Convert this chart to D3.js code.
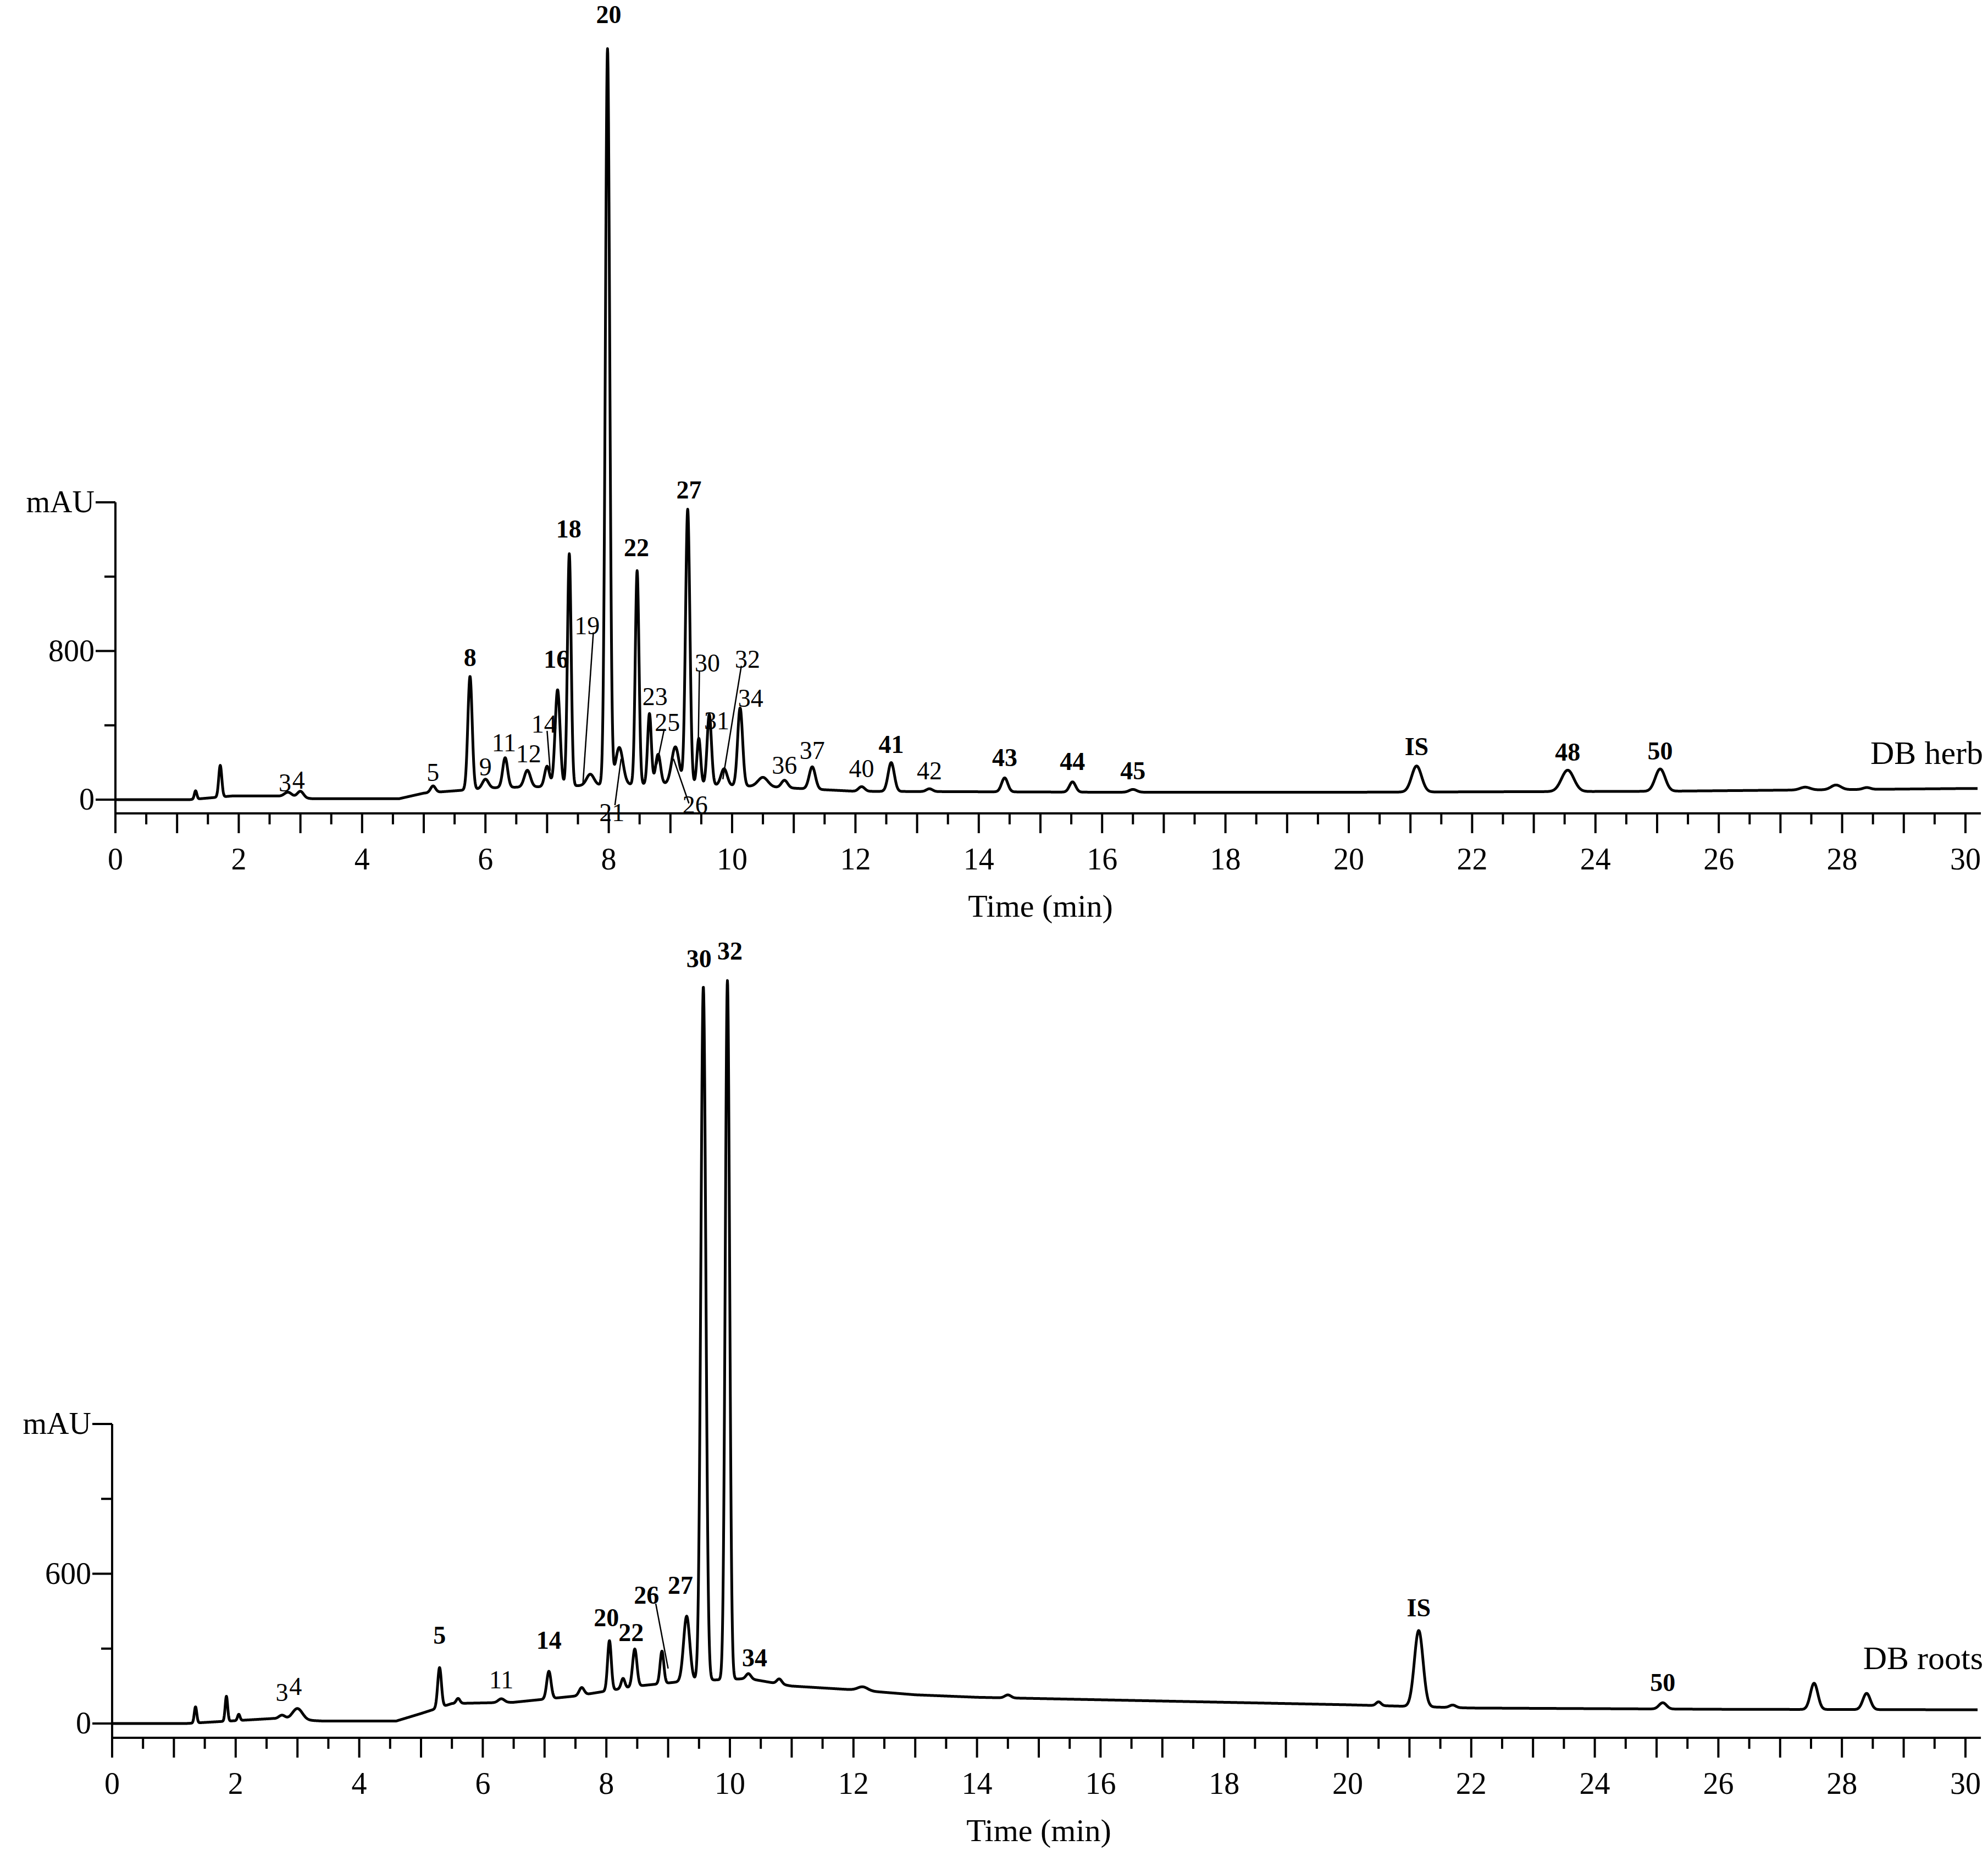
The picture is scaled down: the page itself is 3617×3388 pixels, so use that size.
<!DOCTYPE html>
<html><head><meta charset="utf-8">
<script src="https://cdn.jsdelivr.net/npm/d3@7"></script>
<style>body{margin:0;background:#fff}text{font-family:"Liberation Serif","DejaVu Serif",serif;fill:#000}</style>
</head><body><svg id="c" width="3617" height="3388"></svg>
<script>
// peaks: [retention time (min), height above baseline (mAU), sigma (min)]
const herbPeaks=[[1.3,45,0.02],[1.7,170,0.025],[2.8,25,0.06],[3.0,35,0.05],[5.15,35,0.04],[5.75,610,0.035],[6.0,50,0.05],[6.32,160,0.04],[6.68,90,0.05],[7.0,110,0.04],[7.17,520,0.04],[7.36,1250,0.03],[7.7,60,0.06],[7.98,3960,0.035],[8.17,200,0.06],[8.46,1150,0.03],[8.66,380,0.03],[8.8,160,0.04],[9.08,200,0.06],[9.28,1480,0.035],[9.46,250,0.03],[9.63,380,0.035],[9.87,90,0.05],[10.13,420,0.04],[10.5,50,0.08],[10.85,40,0.05],[11.3,120,0.05],[12.1,25,0.05],[12.58,155,0.05],[13.2,15,0.05],[14.42,75,0.05],[15.52,55,0.05],[16.5,15,0.06],[21.1,140,0.08],[23.55,115,0.1],[25.05,120,0.08],[27.4,15,0.08],[27.9,25,0.08],[28.4,10,0.06]];
const herbBase=[[0,0],[1.2,0],[1.9,20],[2.6,20],[3.2,5],[4.6,5],[5.0,35],[5.6,50],[6.2,65],[7.0,70],[8.0,80],[9.0,85],[10.5,70],[12,45],[16,40],[20,40],[25,45],[30,60],[30.2,60]];
const rootPeaks=[[1.35,65,0.02],[1.85,100,0.02],[2.05,25,0.02],[2.75,15,0.05],[3.0,45,0.08],[5.3,160,0.03],[5.6,20,0.03],[6.3,15,0.05],[7.07,110,0.035],[7.6,30,0.04],[8.05,200,0.03],[8.27,40,0.03],[8.46,150,0.035],[8.9,130,0.03],[9.3,260,0.05],[9.57,2780,0.04],[9.96,2800,0.035],[10.3,20,0.04],[10.8,20,0.04],[12.15,15,0.08],[14.5,12,0.05],[20.5,15,0.04],[21.15,305,0.07],[21.7,10,0.05],[25.1,25,0.06],[27.55,105,0.06],[28.4,65,0.06]];
const rootBase=[[0,0],[1.2,0],[2.6,20],[3.4,10],[4.6,10],[5.0,40],[5.5,80],[6.5,85],[7.5,110],[8.5,150],[9.3,170],[10.3,180],[11,150],[12,135],[13,115],[14,105],[17,90],[20,75],[22,62],[26,57],[30,55],[30.2,55]];
const herbLabels=[["3",2.75,45,0],["4",2.97,60,0],["5",5.15,100,0],["8",5.75,720,1],["9",6.0,130,0],["11",6.3,260,0],["12",6.7,200,0],["14",6.95,360,0],["16",7.15,710,1],["18",7.35,1410,1],["19",7.65,890,0],["20",8.0,4180,1],["21",8.05,-115,0],["22",8.45,1310,1],["23",8.75,510,0],["25",8.95,370,0],["26",9.4,-75,0],["27",9.3,1620,1],["30",9.6,690,0],["31",9.75,380,0],["32",10.25,710,0],["34",10.3,500,0],["36",10.85,140,0],["37",11.3,220,0],["40",12.1,120,0],["41",12.58,250,1],["42",13.2,110,0],["43",14.42,180,1],["44",15.52,160,1],["45",16.5,110,1],["IS",21.1,240,1],["48",23.55,210,1],["50",25.05,215,1]];
const rootLabels=[["3",2.75,90,0],["4",2.97,115,0],["5",5.3,320,1],["11",6.3,140,0],["14",7.07,300,1],["20",8.0,390,1],["22",8.4,330,1],["26",8.65,480,1],["27",9.2,520,1],["30",9.5,3030,1],["32",10.0,3060,1],["34",10.4,230,1],["IS",21.15,430,1],["50",25.1,130,1]];
const herbLeaders=[[7.0,370,7.05,155],[7.75,900,7.58,80],[8.1,-30,8.2,220],[8.9,380,8.78,190],[9.3,-20,9.05,220],[9.47,690,9.45,270],[10.15,720,9.85,110]];
const rootLeaders=[[8.8,480,9.0,220]];

const svg=d3.select("#c");
function curve(peaks,base){
  const b=d3.scaleLinear().domain(base.map(d=>d[0])).range(base.map(d=>d[1]));
  const pts=[];
  for(let t=0;t<=30.2;t+=0.004){let y=b(t);for(const p of peaks){y+=p[1]*Math.exp(-0.5*((t-p[0])/p[2])**2);}pts.push([t,y]);}
  return pts;
}
function panel(o){
  const x=d3.scaleLinear().domain([0,30]).range([o.x0,o.x1]);
  const y=d3.scaleLinear().domain([0,o.ymax]).range([o.y0,o.ytop]);
  const g=svg.append("g");
  g.append("line").attr("x1",o.x0).attr("x2",o.x0).attr("y1",o.ytop).attr("y2",o.axY).attr("stroke","#000").attr("stroke-width",4);
  o.yt.forEach((v,i)=>{const major=i%2==0;
    g.append("line").attr("x1",o.x0-(major?36:20)).attr("x2",o.x0).attr("y1",y(v)).attr("y2",y(v)).attr("stroke","#000").attr("stroke-width",4);});
  o.ytl.forEach(d=>g.append("text").attr("x",o.x0-38).attr("y",y(d[0])+18).attr("text-anchor","end").attr("font-size",56).text(d[1]));
  g.append("line").attr("x1",o.x0).attr("x2",x(30.25)).attr("y1",o.axY).attr("y2",o.axY).attr("stroke","#000").attr("stroke-width",4);
  d3.range(0,30.01,0.5).forEach(t=>{const major=Math.abs(t-Math.round(t))<1e-6;
    g.append("line").attr("x1",x(t)).attr("x2",x(t)).attr("y1",o.axY).attr("y2",o.axY+(major?36:20)).attr("stroke","#000").attr("stroke-width",4);});
  d3.range(0,31,2).forEach(t=>g.append("text").attr("x",x(t)).attr("y",o.axY+102).attr("text-anchor","middle").attr("font-size",56).text(t));
  g.append("text").attr("x",x(15)).attr("y",o.axY+188).attr("text-anchor","middle").attr("font-size",58).text("Time (min)");
  const line=d3.line().x(d=>x(d[0])).y(d=>y(d[1]));
  g.append("path").attr("d",line(curve(o.peaks,o.base))).attr("fill","none").attr("stroke","#000").attr("stroke-width",5).attr("stroke-linejoin","round");
  o.leaders.forEach(l=>g.append("line").attr("x1",x(l[0])).attr("y1",y(l[1])).attr("x2",x(l[2])).attr("y2",y(l[3])).attr("stroke","#000").attr("stroke-width",2.5));
  o.labels.forEach(l=>g.append("text").attr("x",x(l[1])).attr("y",y(l[2])).attr("text-anchor","middle").attr("font-size",46).attr("font-weight",l[3]?"bold":"normal").text(l[0]));
  g.append("text").attr("x",3608).attr("y",o.nameY).attr("text-anchor","end").attr("font-size",60).text(o.name);
}
panel({x0:210,x1:3576,y0:1455,ytop:914,axY:1480,ymax:1600,yt:[0,400,800,1200,1600],ytl:[[0,"0"],[800,"800"],[1600,"mAU"]],peaks:herbPeaks,base:herbBase,labels:herbLabels,leaders:herbLeaders,name:"DB herb",nameY:1390});
panel({x0:204,x1:3576,y0:3136,ytop:2591,axY:3162,ymax:1200,yt:[0,300,600,900,1200],ytl:[[0,"0"],[600,"600"],[1200,"mAU"]],peaks:rootPeaks,base:rootBase,labels:rootLabels,leaders:rootLeaders,name:"DB roots",nameY:3037});
</script></body></html>
